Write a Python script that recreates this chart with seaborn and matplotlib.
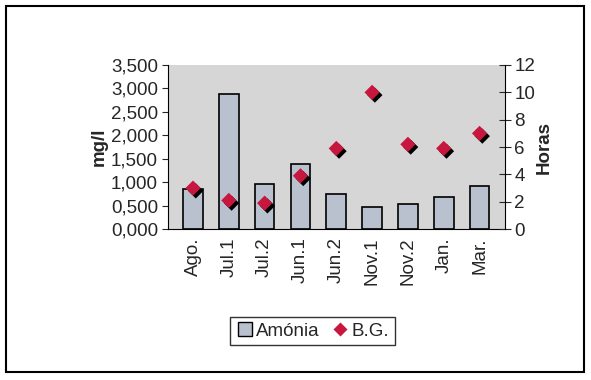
import pandas as pd
import seaborn as sns
import matplotlib.pyplot as plt
import matplotlib.patheffects as pe
from matplotlib.patches import Rectangle
from matplotlib.ticker import FuncFormatter, MultipleLocator

# data
categorias = ["Ago.", "Jul.1", "Jul.2", "Jun.1", "Jun.2", "Nov.1", "Nov.2", "Jan.", "Mar."]
amonia = [0.86, 2.88, 0.96, 1.39, 0.75, 0.47, 0.53, 0.68, 0.92]
horas_bg = [3.0, 2.1, 1.9, 3.9, 5.9, 10.0, 6.2, 5.9, 7.0]

df = pd.DataFrame({"cat": categorias, "amonia": amonia, "horas": horas_bg})

sns.set_style("white")
plt.rcParams["font.family"] = ["Liberation Sans", "DejaVu Sans"]
FS = 13.5

fig = plt.figure(figsize=(5.91, 3.80), dpi=100)
ax = fig.add_axes([0.284, 0.397, 0.570, 0.432])
ax.set_facecolor("#d6d6d6")

sns.barplot(data=df, x="cat", y="amonia", ax=ax, color="#b9c1cf",
            edgecolor="black", linewidth=1.2, width=0.55, saturation=1)
ax.set_ylim(0, 3.5)
ax.yaxis.set_major_locator(MultipleLocator(0.5))
ax.yaxis.set_major_formatter(FuncFormatter(lambda v, p: f"{v:.3f}".replace(".", ",")))
ax.set_ylabel("mg/l", fontsize=FS, fontweight="bold", labelpad=2)
ax.set_xlabel("")
ax.tick_params(axis="x", rotation=90, labelsize=FS, length=0, pad=6)
ax.tick_params(axis="y", labelsize=FS, length=4, direction="out", left=True, pad=3)
for s in ["top", "right"]:
    ax.spines[s].set_visible(False)
ax.spines["left"].set_color("black")
ax.spines["bottom"].set_color("black")
ax.grid(False)

ax2 = ax.twinx()
sns.scatterplot(data=df, x="cat", y="horas", ax=ax2, marker="D", s=60,
                color="#c8173f", edgecolor="none", zorder=5,
                path_effects=[pe.withSimplePatchShadow(offset=(2, -2), shadow_rgbFace="black", alpha=1)])
ax2.set_ylim(0, 12)
ax2.yaxis.set_major_locator(MultipleLocator(2))
ax2.set_ylabel("Horas", fontsize=FS, fontweight="bold", labelpad=0)
ax2.tick_params(axis="y", labelsize=FS, length=8, direction="inout", right=True, pad=3)
for s in ["top", "left", "bottom"]:
    ax2.spines[s].set_visible(False)
ax2.spines["right"].set_color("black")
ax2.grid(False)

handles = [
    plt.Line2D([0], [0], marker="s", color="none", markerfacecolor="#b9c1cf",
               markeredgecolor="black", markersize=10, label="Amónia"),
    plt.Line2D([0], [0], marker="D", color="none", markerfacecolor="#c8173f",
               markeredgecolor="none", markersize=7, label="B.G."),
]
fig.legend(handles=handles, loc="center", bbox_to_anchor=(0.528, 0.129), ncol=2,
           fontsize=FS, frameon=True, fancybox=False, edgecolor="black",
           handletextpad=0.1, columnspacing=0.6, handlelength=1.0, borderpad=0.3)

fig.patches.append(Rectangle((0.01, 0.02), 0.978, 0.965, transform=fig.transFigure,
                             fill=False, edgecolor="black", linewidth=1.5))

fig.savefig("out.png", dpi=100)
